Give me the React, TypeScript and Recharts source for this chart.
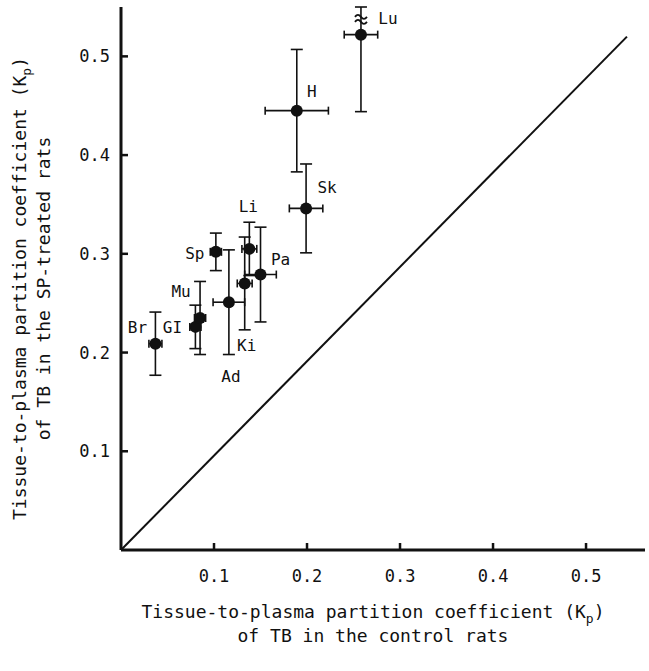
import { ScatterChart, Scatter, XAxis, YAxis, ErrorBar, ReferenceLine, ReferenceDot } from 'recharts'

// tissue Kp of TB: control rats (x) vs SP-treated rats (y)
const tissues = ['Br', 'GI', 'Mu', 'Ad', 'Ki', 'Pa', 'Li', 'Sp', 'Sk', 'H', 'Lu']
const controlKp = [0.037, 0.08, 0.085, 0.116, 0.133, 0.15, 0.138, 0.102, 0.199, 0.189, 0.258]
const controlSd = [0.007, 0.006, 0.006, 0.017, 0.008, 0.017, 0.008, 0.006, 0.018, 0.034, 0.018]
const spKp = [0.209, 0.226, 0.235, 0.251, 0.27, 0.279, 0.305, 0.302, 0.346, 0.445, 0.522]
const spSd: (number | number[])[] = [0.032, 0.022, 0.037, 0.053, 0.047, 0.048, 0.027, 0.019, 0.045, 0.062, [0.078, 0.028]]
const xTicks = [0.1, 0.2, 0.3, 0.4, 0.5]
const yTicks = [0.1, 0.2, 0.3, 0.4, 0.5]
const identityLine = [{ x: 0, y: 0 }, { x: 0.544, y: 0.52 }]
const brokenBar = { x: 0.258, y: 0.539 }

const data = tissues.map((name, i) => ({
  name,
  x: controlKp[i],
  y: spKp[i],
  xErr: controlSd[i],
  yErr: spSd[i],
}))

// label placement relative to each dot (px)
const labelOffset: Record<string, [number, number]> = {
  Br: [-18, -17], GI: [-23, 0], Mu: [-19, -27], Ad: [2, 74], Ki: [2, 62], Pa: [20, -16],
  Li: [-1, -43], Sp: [-21, 1], Sk: [21, -21], H: [15, -20], Lu: [27, -17],
}

const INK = '#111'
const FONT = "'DejaVu Sans Mono', monospace"

const Dot = (props: any) => {
  const { cx, cy, payload } = props
  const [dx, dy] = labelOffset[payload.name] || [0, 0]
  return (
    <g>
      <circle cx={cx} cy={cy} r={6} fill={INK} />
      <text x={cx + dx} y={cy + dy} dy={6} textAnchor="middle" fontSize={16} fontFamily={FONT} fill={INK}>
        {payload.name}
      </text>
    </g>
  )
}

const YTick = ({ x, y, payload }: any) => (
  <g>
    <line x1={x + 11} x2={x + 18} y1={y} y2={y} stroke={INK} strokeWidth={2.5} />
    <text x={x} y={y} dy={6} textAnchor="end" fontSize={17} fontFamily={FONT} fill={INK}>
      {Number(payload.value).toFixed(1)}
    </text>
  </g>
)

const XTick = ({ x, y, payload }: any) => (
  <g>
    <line x1={x} x2={x} y1={y} y2={y - 7} stroke={INK} strokeWidth={2.5} />
    <text x={x} y={y + 32} textAnchor="middle" fontSize={17} fontFamily={FONT} fill={INK}>
      {Number(payload.value).toFixed(1)}
    </text>
  </g>
)

const XTitle = ({ viewBox }: any) => {
  const cx = viewBox.x + viewBox.width / 2 - 10
  return (
    <g fontSize={18} fontFamily={FONT} fill={INK}>
      <text x={cx} y={viewBox.y + 68} textAnchor="middle">
        Tissue-to-plasma partition coefficient (K<tspan fontSize={13} dy={5}>p</tspan><tspan dy={-5}>)</tspan>
      </text>
      <text x={cx} y={viewBox.y + 92} textAnchor="middle">of TB in the control rats</text>
    </g>
  )
}

const YTitle = ({ viewBox }: any) => {
  const cy = viewBox.y + viewBox.height / 2 + 10
  return (
    <g fontSize={18} fontFamily={FONT} fill={INK}>
      <text x={26} y={cy} textAnchor="middle" transform={`rotate(-90, 26, ${cy})`}>
        Tissue-to-plasma partition coefficient (K<tspan fontSize={13} dy={5}>p</tspan><tspan dy={-5}>)</tspan>
      </text>
      <text x={50} y={cy} textAnchor="middle" transform={`rotate(-90, 50, ${cy})`}>of TB in the SP-treated rats</text>
    </g>
  )
}

const BreakMark = ({ cx, cy }: any) => (
  <g stroke={INK} strokeWidth={1.8} fill="none">
    <path d={`M${cx - 6},${cy - 1} q3,-4 6,0 t6,0`} />
    <path d={`M${cx - 6},${cy + 4} q3,-4 6,0 t6,0`} />
  </g>
)

export default function App() {
  return (
    <div style={{ position: 'absolute', left: 0, top: 0, background: '#fff' }}>
      <ScatterChart width={649} height={671} margin={{ top: 7, right: 4, bottom: 0, left: 0 }}>
        <XAxis
          type="number"
          dataKey="x"
          domain={[0, 0.5634]}
          ticks={xTicks}
          height={121}
          tickSize={0}
          tickMargin={0}
          tick={<XTick />}
          axisLine={{ stroke: INK, strokeWidth: 3 }}
          label={{ content: XTitle }}
          allowDataOverflow
        />
        <YAxis
          type="number"
          dataKey="y"
          domain={[0, 0.55]}
          ticks={yTicks}
          width={121}
          tickSize={0}
          tickMargin={11}
          tick={<YTick />}
          axisLine={{ stroke: INK, strokeWidth: 3 }}
          label={{ content: YTitle }}
          allowDataOverflow
        />
        <ReferenceLine segment={identityLine} stroke={INK} strokeWidth={2} ifOverflow="visible" />
        <Scatter data={data} shape={<Dot />} isAnimationActive={false}>
          <ErrorBar dataKey="yErr" direction="y" width={6} stroke={INK} strokeWidth={1.6} />
          <ErrorBar dataKey="xErr" direction="x" width={4} stroke={INK} strokeWidth={1.6} />
        </Scatter>
        <ReferenceDot x={brokenBar.x} y={brokenBar.y} shape={<BreakMark />} ifOverflow="visible" />
      </ScatterChart>
    </div>
  )
}
